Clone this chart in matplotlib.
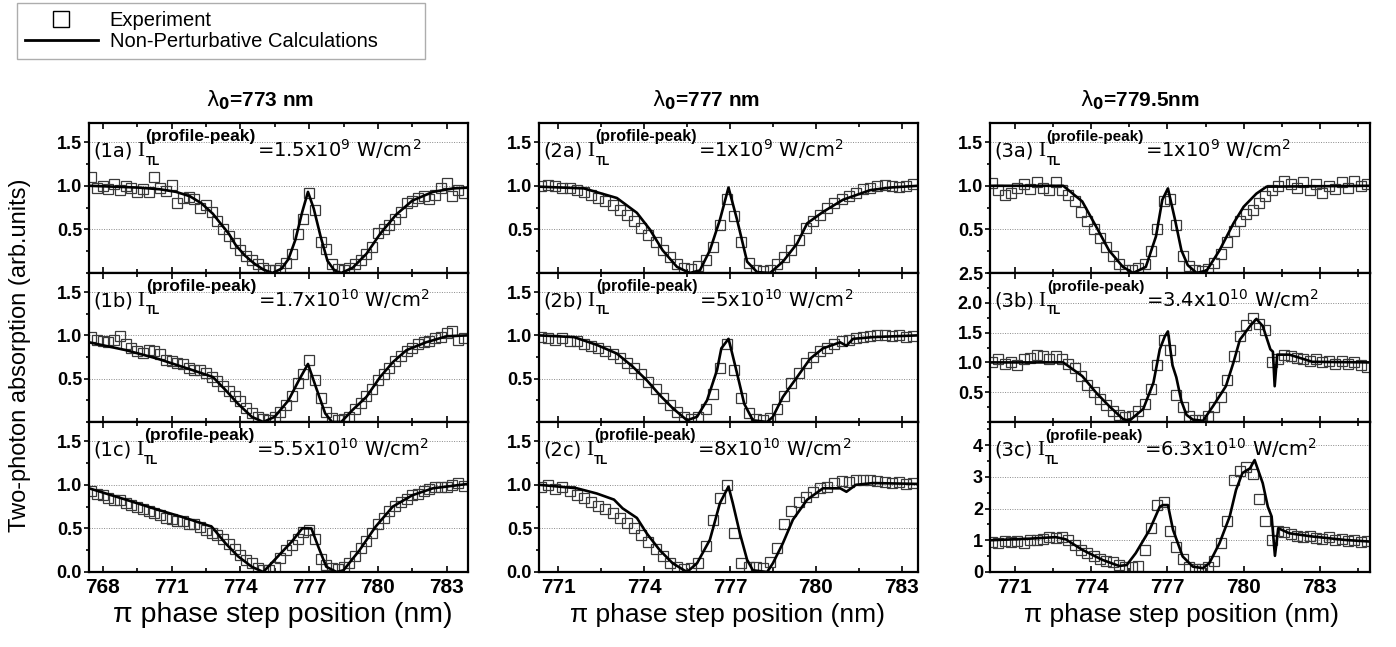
import numpy as np
import matplotlib
matplotlib.use('Agg')
import matplotlib.pyplot as plt
from matplotlib.lines import Line2D
from matplotlib.ticker import MultipleLocator, FixedLocator, FormatStrFormatter

plt.rcParams['font.family'] = ['Liberation Sans', 'DejaVu Sans']
plt.rcParams['mathtext.fontset'] = 'dejavusans'

# ---------------------------------------------------------------
# data: calculation curves (x, y) and experiment (y on a 0.25 nm scan grid)
# ---------------------------------------------------------------
exp_step = 0.25
exp_x0 = [767.5, 770.4, 770.1]        # first scan point for each column

calc_1a_x = [767.4, 768.5, 769.5, 770.5, 771.2, 771.8, 772.3, 772.8, 773.1, 773.5, 773.8,
             774.2, 774.6, 775.0, 775.4, 775.8, 776.1, 776.4, 776.7, 776.95, 777.2, 777.5,
             777.8, 778.1, 778.4, 778.9, 779.5, 780.1, 780.8, 781.5, 782.4, 783.3, 783.93]
calc_1a_y = [1.0, 0.99, 0.98, 0.96, 0.93, 0.88, 0.80, 0.68, 0.58, 0.45, 0.32,
             0.20, 0.11, 0.04, 0.0, 0.05, 0.16, 0.38, 0.70, 0.93, 0.74, 0.42,
             0.14, 0.03, 0.0, 0.06, 0.22, 0.45, 0.67, 0.83, 0.93, 0.97, 0.98]
exp_1a_y = [1.10, 0.97, 1.00, 0.96, 1.02, 0.95, 1.00, 0.97, 0.93, 0.96,
            0.93, 1.10, 0.97, 0.94, 1.01, 0.80, 0.86, 0.87, 0.85, 0.74,
            0.78, 0.70, 0.60, 0.50, 0.42, 0.34, 0.26, 0.20, 0.15, 0.10,
            0.06, 0.04, 0.03, 0.06, 0.12, 0.22, 0.45, 0.62, 0.92, 0.72,
            0.35, 0.28, 0.10, 0.05, 0.04, 0.06, 0.10, 0.15, 0.22, 0.30,
            0.46, 0.50, 0.55, 0.62, 0.70, 0.80, 0.83, 0.86, 0.88, 0.85,
            0.90, 0.97, 1.03, 0.88, 0.95, 0.92]

calc_1b_x = [767.4, 769.0, 770.4, 771.9, 772.8, 773.35, 773.9, 774.5, 775.0, 775.5, 776.1,
             776.55, 776.95, 777.3, 777.7, 778.0, 778.4, 778.9, 779.5, 780.1, 780.65,
             781.25, 782.1, 783.0, 783.93]
calc_1b_y = [0.92, 0.83, 0.73, 0.60, 0.52, 0.37, 0.21, 0.06, 0.0, 0.06, 0.25,
             0.48, 0.67, 0.40, 0.10, 0.0, 0.0, 0.14, 0.29, 0.52, 0.69,
             0.83, 0.92, 0.99, 1.0]
exp_1b_y = [0.98, 0.95, 0.93, 0.92, 0.95, 0.99, 0.90, 0.85, 0.82, 0.80,
            0.83, 0.82, 0.78, 0.72, 0.70, 0.68, 0.67, 0.62, 0.60, 0.60,
            0.56, 0.52, 0.47, 0.42, 0.36, 0.30, 0.24, 0.16, 0.10, 0.06,
            0.03, 0.02, 0.06, 0.12, 0.20, 0.30, 0.45, 0.55, 0.72, 0.48,
            0.28, 0.12, 0.05, 0.02, 0.03, 0.06, 0.15, 0.22, 0.30, 0.38,
            0.48, 0.55, 0.62, 0.70, 0.76, 0.82, 0.86, 0.90, 0.92, 0.94,
            0.97, 0.98, 1.03, 1.05, 0.95, 0.97]

calc_1c_x = [767.4, 769.0, 770.45, 771.6, 772.75, 773.35, 773.9, 774.5, 775.0, 775.5, 776.25,
             776.7, 777.1, 777.4, 777.75, 778.2, 778.5, 779.2, 779.9, 780.65, 781.5, 782.4, 783.93]
calc_1c_y = [0.96, 0.83, 0.71, 0.62, 0.52, 0.33, 0.18, 0.06, 0.0, 0.14, 0.35,
             0.50, 0.50, 0.29, 0.06, 0.0, 0.02, 0.25, 0.52, 0.75, 0.88, 0.96, 1.01]
exp_1c_y = [0.93, 0.90, 0.88, 0.85, 0.83, 0.82, 0.79, 0.77, 0.75, 0.72,
            0.70, 0.68, 0.65, 0.62, 0.61, 0.59, 0.58, 0.55, 0.55, 0.52,
            0.48, 0.45, 0.42, 0.38, 0.32, 0.26, 0.20, 0.14, 0.10, 0.05,
            0.02, 0.02, 0.06, 0.16, 0.25, 0.31, 0.38, 0.46, 0.48, 0.38,
            0.15, 0.08, 0.05, 0.04, 0.06, 0.10, 0.18, 0.27, 0.36, 0.45,
            0.55, 0.62, 0.70, 0.76, 0.80, 0.84, 0.88, 0.90, 0.93, 0.95,
            0.97, 0.98, 0.98, 1.00, 1.02, 0.99]

calc_2a_x = [770.33, 771.9, 773.05, 773.75, 774.2, 774.65, 775.15, 775.6, 775.95, 776.3, 776.65,
             776.95, 777.25, 777.6, 777.95, 778.4, 778.85, 779.35, 779.7, 780.25, 780.95,
             781.9, 782.6, 783.57]
calc_2a_y = [0.99, 0.97, 0.86, 0.69, 0.50, 0.26, 0.07, 0.0, 0.03, 0.26, 0.61,
             0.98, 0.61, 0.13, 0.01, 0.0, 0.13, 0.34, 0.57, 0.70, 0.84,
             0.95, 0.98, 1.0]
exp_2a_y = [1.00, 1.01, 1.00, 0.98, 0.97, 0.95, 0.93, 0.90, 0.86, 0.82,
            0.78, 0.72, 0.66, 0.60, 0.52, 0.44, 0.36, 0.26, 0.18, 0.10,
            0.06, 0.05, 0.08, 0.15, 0.30, 0.55, 0.85, 0.65, 0.36, 0.12,
            0.04, 0.02, 0.03, 0.10, 0.18, 0.26, 0.38, 0.52, 0.60, 0.66,
            0.74, 0.80, 0.85, 0.88, 0.92, 0.96, 0.98, 1.00, 1.01, 1.00,
            0.99, 1.00, 1.02]

calc_2b_x = [770.33, 771.55, 772.35, 773.05, 773.6, 774.1, 774.55, 775.0, 775.5, 775.85, 776.2,
             776.55, 776.7, 776.95, 777.05, 777.25, 777.5, 777.8, 778.3, 778.5, 778.85,
             779.35, 779.8, 780.25, 780.85, 781.07, 781.3, 782.0, 783.57]
calc_2b_y = [1.0, 0.98, 0.89, 0.79, 0.64, 0.48, 0.31, 0.16, 0.02, 0.06, 0.25,
             0.60, 0.85, 0.96, 0.83, 0.56, 0.21, 0.02, 0.0, 0.06, 0.29,
             0.52, 0.73, 0.85, 0.92, 0.88, 0.96, 0.98, 1.0]
exp_2b_y = [0.98, 0.97, 0.95, 0.97, 0.94, 0.93, 0.90, 0.88, 0.86, 0.82,
            0.78, 0.74, 0.68, 0.62, 0.55, 0.46, 0.38, 0.28, 0.20, 0.12,
            0.06, 0.04, 0.06, 0.15, 0.32, 0.62, 0.90, 0.60, 0.28, 0.10,
            0.03, 0.02, 0.05, 0.15, 0.30, 0.45, 0.57, 0.68, 0.75, 0.82,
            0.86, 0.90, 0.93, 0.95, 0.97, 0.98, 0.99, 1.00, 1.01, 0.99,
            1.00, 0.98, 0.99]

calc_2c_x = [770.33, 771.65, 772.35, 772.95, 773.25, 773.75, 774.1, 774.55, 775.0, 775.5, 775.85,
             776.3, 776.65, 776.95, 777.1, 777.35, 777.6, 777.8, 778.3, 778.5, 778.85,
             779.2, 779.7, 780.25, 780.85, 781.07, 781.4, 782.0, 783.57]
calc_2c_y = [1.0, 0.96, 0.90, 0.83, 0.73, 0.62, 0.44, 0.25, 0.10, 0.0, 0.10,
             0.37, 0.79, 0.98, 0.79, 0.44, 0.14, 0.02, 0.0, 0.10, 0.33,
             0.60, 0.83, 0.96, 0.96, 0.92, 1.0, 1.02, 1.01]
exp_2c_y = [0.97, 1.00, 0.95, 0.98, 0.93, 0.88, 0.85, 0.80, 0.76, 0.72,
            0.68, 0.62, 0.56, 0.50, 0.42, 0.34, 0.26, 0.18, 0.10, 0.06,
            0.04, 0.05, 0.10, 0.30, 0.60, 0.85, 1.00, 0.45, 0.10, 0.06,
            0.06, 0.05, 0.12, 0.28, 0.55, 0.70, 0.80, 0.86, 0.92, 0.96,
            0.98, 1.02, 1.04, 1.03, 1.05, 1.06, 1.05, 1.04, 1.03, 1.02,
            1.03, 1.01, 1.02]

calc_3a_x = [770.0, 772.9, 773.65, 774.2, 774.7, 775.25, 775.65, 776.15, 776.55, 776.8, 777.02,
             777.3, 777.55, 777.8, 778.15, 778.55, 779.05, 779.6, 780.0, 780.5, 780.9, 784.97]
calc_3a_y = [1.0, 1.0, 0.82, 0.53, 0.26, 0.07, 0.0, 0.07, 0.42, 0.84, 0.97,
             0.61, 0.26, 0.09, 0.0, 0.03, 0.26, 0.57, 0.76, 0.91, 0.99, 1.0]
exp_3a_y = [1.03, 0.95, 0.90, 0.92, 0.98, 1.02, 0.96, 1.04, 0.98, 0.95,
            1.04, 0.95, 0.90, 0.82, 0.70, 0.60, 0.50, 0.40, 0.30, 0.20,
            0.10, 0.04, 0.04, 0.06, 0.10, 0.25, 0.50, 0.82, 0.85, 0.55,
            0.20, 0.08, 0.04, 0.02, 0.05, 0.12, 0.22, 0.35, 0.48, 0.60,
            0.68, 0.72, 0.80, 0.88, 0.95, 1.00, 1.05, 1.02, 0.98, 1.04,
            0.95, 1.02, 0.92, 1.00, 0.96, 1.04, 0.98, 1.05, 1.00, 1.02]

calc_3b_x = [770.0, 772.9, 773.65, 774.2, 774.7, 775.25, 775.5, 776.05, 776.45, 776.7, 776.9,
             777.02, 777.2, 777.35, 777.55, 777.75, 778.0, 778.4, 778.8, 779.3, 779.6,
             779.85, 780.25, 780.5, 780.75, 781.05, 781.15, 781.22, 781.32, 781.8, 782.7, 784.97]
calc_3b_y = [1.0, 1.0, 0.77, 0.49, 0.27, 0.05, 0.02, 0.22, 0.66, 1.22, 1.44,
             1.52, 0.95, 0.75, 0.35, 0.12, 0.04, 0.02, 0.27, 0.60, 1.00,
             1.38, 1.61, 1.73, 1.61, 1.22, 1.18, 0.60, 1.13, 1.13, 1.01, 1.0]
exp_3b_y = [1.00, 1.05, 0.98, 1.00, 0.95, 1.05, 1.08, 1.12, 1.10, 1.06,
            1.10, 1.05, 0.98, 0.90, 0.78, 0.62, 0.50, 0.38, 0.28, 0.18,
            0.12, 0.08, 0.10, 0.18, 0.30, 0.55, 0.95, 1.38, 1.20, 0.45,
            0.25, 0.10, 0.04, 0.03, 0.10, 0.25, 0.42, 0.70, 1.10, 1.45,
            1.62, 1.75, 1.65, 1.55, 1.00, 1.05, 1.12, 1.10, 1.08, 1.05,
            1.02, 1.05, 1.00, 1.02, 0.98, 1.03, 0.98, 1.00, 0.95, 0.92]

calc_3c_x = [770.0, 771.55, 772.6, 773.0, 773.65, 774.45, 775.1, 775.4, 775.75, 776.3, 776.7,
             776.82, 777.02, 777.22, 777.6, 778.0, 778.4, 778.65, 779.05, 779.45, 779.7,
             779.95, 780.25, 780.43, 780.75, 780.95, 781.1, 781.23, 781.36, 781.8, 782.7,
             784.0, 784.97]
calc_3c_y = [1.0, 1.05, 1.1, 1.03, 0.70, 0.38, 0.19, 0.22, 0.59, 1.33, 2.06,
             2.11, 2.11, 1.33, 0.49, 0.17, 0.12, 0.28, 0.91, 1.75, 2.59,
             3.12, 3.27, 3.53, 2.80, 2.06, 1.75, 0.51, 1.38, 1.22, 1.12,
             1.01, 0.96]
exp_3c_y = [0.95, 0.92, 0.97, 0.95, 0.98, 0.93, 1.00, 1.02, 1.05, 1.10,
            1.08, 1.10, 1.00, 0.85, 0.70, 0.60, 0.50, 0.42, 0.35, 0.30,
            0.22, 0.15, 0.15, 0.20, 0.70, 1.40, 2.10, 2.20, 1.30, 0.80,
            0.40, 0.15, 0.10, 0.08, 0.15, 0.35, 0.90, 1.60, 2.90, 3.20,
            3.30, 3.10, 2.30, 1.60, 1.00, 1.30, 1.25, 1.20, 1.15, 1.10,
            1.12, 1.08, 1.05, 1.10, 1.02, 1.05, 0.98, 1.00, 0.95, 0.97]

panel_tags = ['(1a)', '(1b)', '(1c)', '(2a)', '(2b)', '(2c)', '(3a)', '(3b)', '(3c)']
intensity_text = ['=1.5x10$^{9}$ W/cm$^{2}$', '=1.7x10$^{10}$ W/cm$^{2}$', '=5.5x10$^{10}$ W/cm$^{2}$',
                  '=1x10$^{9}$ W/cm$^{2}$', '=5x10$^{10}$ W/cm$^{2}$', '=8x10$^{10}$ W/cm$^{2}$',
                  '=1x10$^{9}$ W/cm$^{2}$', '=3.4x10$^{10}$ W/cm$^{2}$', '=6.3x10$^{10}$ W/cm$^{2}$']
column_titles = [r'$\mathrm{\lambda}_\mathbf{0}$=773 nm', r'$\mathrm{\lambda}_\mathbf{0}$=777 nm',
                 r'$\mathrm{\lambda}_\mathbf{0}$=779.5nm']

calc_x = [calc_1a_x, calc_1b_x, calc_1c_x, calc_2a_x, calc_2b_x, calc_2c_x, calc_3a_x, calc_3b_x, calc_3c_x]
calc_y = [calc_1a_y, calc_1b_y, calc_1c_y, calc_2a_y, calc_2b_y, calc_2c_y, calc_3a_y, calc_3b_y, calc_3c_y]
exp_y = [exp_1a_y, exp_1b_y, exp_1c_y, exp_2a_y, exp_2b_y, exp_2c_y, exp_3a_y, exp_3b_y, exp_3c_y]

# ---------------------------------------------------------------
# layout (pixels of the 1396x647 canvas)
# ---------------------------------------------------------------
W, H = 1396, 647
col_px = [(89, 468), (539, 918), (990, 1370)]
row_px = [(123, 273), (273, 422), (422, 572)]
xlims = [(767.4, 783.93), (770.33, 783.57), (770.02, 784.97)]
sup_sizes = [12.5, 11.5, 11]

fig = plt.figure(figsize=(W / 100, H / 100), dpi=100)


def label_panel(ax, tag, rest, sup_size):
    t0 = ax.text(0.012, 0.775, tag, transform=ax.transAxes, fontsize=14,
                 family='DejaVu Sans', va='baseline', ha='left')
    tI = ax.annotate('I', xy=(1, 0), xycoords=t0, xytext=(3, 0), textcoords='offset points',
                     fontsize=15, family='Liberation Serif', va='bottom', ha='left')
    ax.annotate('TL', xy=(1, 0), xycoords=tI, xytext=(1, -5), textcoords='offset points',
                fontsize=8.5, fontweight='bold', va='bottom', ha='left')
    tsup = ax.annotate('(profile-peak)', xy=(1, 0), xycoords=tI, xytext=(1, 12),
                       textcoords='offset points', fontsize=sup_size, fontweight='bold',
                       va='bottom', ha='left')
    ax.annotate(rest, xy=(1, 0), xycoords=(tsup, t0), xytext=(1, 0), textcoords='offset points',
                fontsize=14, family='DejaVu Sans', va='bottom', ha='left')


for c in range(3):
    l, r = col_px[c]
    for rw in range(3):
        k = 3 * c + rw
        t, b = row_px[rw]
        ax = fig.add_axes([l / W, 1 - b / H, (r - l) / W, (b - t) / H])

        xe = exp_x0[c] + exp_step * np.arange(len(exp_y[k]))
        ax.plot(xe, exp_y[k], ls='none', marker='s', ms=7, mfc='none', mec='#3a3a3a',
                mew=0.9, zorder=2)
        ax.plot(calc_x[k], calc_y[k], color='black', lw=1.9, zorder=3)

        ax.set_xlim(*xlims[c])
        ax.xaxis.set_major_locator(MultipleLocator(3))
        ax.xaxis.set_minor_locator(MultipleLocator(1.5))

        if c == 2 and rw == 1:
            ax.set_ylim(0, 2.5)
            ax.yaxis.set_major_locator(FixedLocator([0.5, 1.0, 1.5, 2.0, 2.5]))
            ax.yaxis.set_minor_locator(MultipleLocator(0.25))
            ax.yaxis.set_major_formatter(FormatStrFormatter('%.1f'))
        elif c == 2 and rw == 2:
            ax.set_ylim(0, 4.73)
            ax.yaxis.set_major_locator(FixedLocator([0, 1, 2, 3, 4]))
            ax.yaxis.set_minor_locator(MultipleLocator(0.5))
            ax.yaxis.set_major_formatter(FormatStrFormatter('%d'))
        else:
            ax.set_ylim(0, 1.72)
            majors = [0.0, 0.5, 1.0, 1.5] if rw == 2 else [0.5, 1.0, 1.5]
            ax.yaxis.set_major_locator(FixedLocator(majors))
            ax.yaxis.set_minor_locator(MultipleLocator(0.25))
            ax.yaxis.set_major_formatter(FormatStrFormatter('%.1f'))

        ax.grid(axis='y', which='major', ls=(0, (1, 1.5)), color='#8a8a8a', lw=0.7)
        ax.tick_params(axis='x', which='both', direction='in', top=True, bottom=True,
                       width=1.2, labelsize=15, pad=4, labelbottom=(rw == 2))
        ax.tick_params(axis='x', which='major', length=4.5)
        ax.tick_params(axis='x', which='minor', length=3)
        ax.tick_params(axis='y', which='both', direction='out', left=True, right=False,
                       width=1.2, labelsize=13, pad=1.5)
        ax.tick_params(axis='y', which='major', length=3.5)
        ax.tick_params(axis='y', which='minor', length=2.5)
        for lbl in ax.get_xticklabels() + ax.get_yticklabels():
            lbl.set_fontweight('bold')
        for sp in ax.spines.values():
            sp.set_linewidth(1.6)

        label_panel(ax, panel_tags[k], intensity_text[k], sup_sizes[c])

# column titles and axis labels
title_cx = [260, 706, 1140]
xlabel_cx = [283, 728, 1181]
xlabel_size = [20.5, 19, 19]
for c in range(3):
    fig.text(title_cx[c] / W, 1 - 100 / H, column_titles[c], ha='center', va='center',
             fontsize=15, fontweight='bold')
    fig.text(xlabel_cx[c] / W, 1 - 615 / H, 'π phase step position (nm)', ha='center',
             va='center', fontsize=xlabel_size[c])
fig.text(20 / W, 1 - 355 / H, 'Two-photon absorption (arb.units)', rotation=90,
         ha='center', va='center', fontsize=17)

handles = [Line2D([], [], ls='none', marker='s', ms=11, mfc='none', mec='black', mew=1.0),
           Line2D([], [], color='black', lw=2)]
leg = fig.legend(handles, ['Experiment', 'Non-Perturbative Calculations'], loc='lower left',
                 bbox_to_anchor=(17 / W, 1 - 59 / H, (425 - 17) / W, 0.2), mode='expand',
                 frameon=True, fancybox=False, edgecolor='#999999', fontsize=14.5,
                 handlelength=3.6, handletextpad=0.6, labelspacing=0.1, borderpad=0.4,
                 borderaxespad=0)
leg.get_frame().set_linewidth(1.0)

fig.savefig('out.png', dpi=100)
